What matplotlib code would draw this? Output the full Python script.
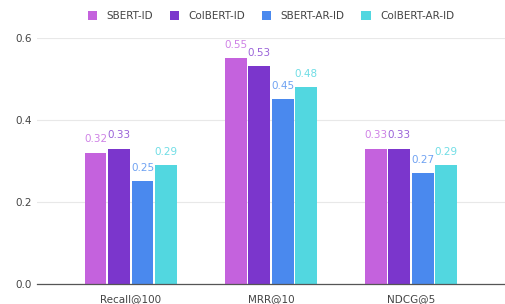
import matplotlib.pyplot as plt
import numpy as np

metrics = ["Recall@100", "MRR@10", "NDCG@5"]
models = ["SBERT-ID", "ColBERT-ID", "SBERT-AR-ID", "ColBERT-AR-ID"]
scores = {
    "SBERT-ID": [0.32, 0.55, 0.33],
    "ColBERT-ID": [0.33, 0.53, 0.33],
    "SBERT-AR-ID": [0.25, 0.45, 0.27],
    "ColBERT-AR-ID": [0.29, 0.48, 0.29],
}
colors = ["#c462dd", "#7b36cc", "#4a89ee", "#52d7e0"]
label_colors = ["#cf82e6", "#9a63d8", "#6fa2f2", "#6fdde5"]

fig = plt.figure(figsize=(5.05, 3.04), dpi=100)
ax = fig.add_axes([0.073, 0.066, 0.927, 0.81])

x = np.arange(len(metrics))
w = 0.156
for i, m in enumerate(models):
    pos = x + (i - 1.5) * (w + 0.012)
    bars = ax.bar(pos, scores[m], width=w, color=colors[i], label=m, zorder=3)
    for b, v in zip(bars, scores[m]):
        ax.text(b.get_x() + b.get_width() / 2, v + 0.02, "%.2f" % v,
                ha="center", va="bottom", fontsize=7.5, color=label_colors[i])

ax.set_xlim(-0.67, 2.67)
ax.set_ylim(0, 0.6)
ax.set_yticks([0.0, 0.2, 0.4, 0.6])
ax.set_yticklabels(["0.0", "0.2", "0.4", "0.6"])
ax.set_xticks(x)
ax.set_xticklabels(metrics)
ax.tick_params(axis="both", length=0, labelsize=7.5, colors="#444444")
ax.tick_params(axis="x", pad=7)
ax.grid(axis="y", color="#e8e8e8", linewidth=0.8, zorder=0)
for s in ["top", "right", "left"]:
    ax.spines[s].set_visible(False)
ax.spines["bottom"].set_color("#555555")
ax.spines["bottom"].set_linewidth(0.9)
ax.spines["bottom"].set_zorder(4)

ax.legend(loc="lower center", bbox_to_anchor=(0.5, 1.03), ncol=4, frameon=False,
          fontsize=7.5, handlelength=0.9, handleheight=0.9, columnspacing=1.6,
          handletextpad=0.9, labelcolor="#444444")

fig.savefig("out.png", dpi=100)
